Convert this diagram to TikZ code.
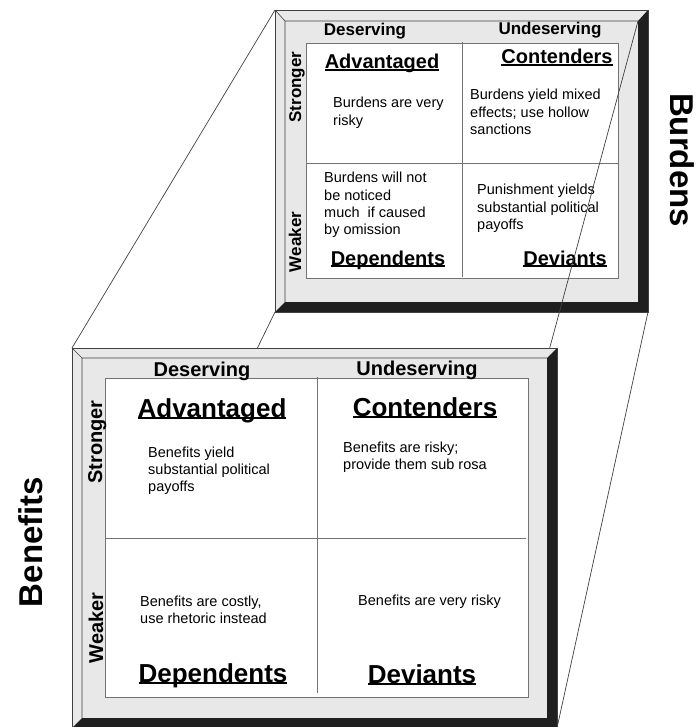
\documentclass[tikz,border=0pt]{standalone}
\usepackage{fontspec}
\setmainfont{Liberation Sans}
\newcommand\catname[1]{\setbox0=\hbox{#1}\rlap{\rule[-0.09em]{\wd0}{0.075em}}\box0}
\tikzset{
  rim/.style={draw=black!75, line width=0.6pt},
  dark/.style={fill=black!88},
  cell/.style={fill=white, draw=black!55, line width=0.8pt},
  zoomline/.style={draw=black!75, line width=0.7pt},
  colhead/.style={anchor=base, inner sep=0pt, font=\bfseries\fontsize{#1}{#1}\selectfont},
  rowhead/.style={anchor=base, inner sep=0pt, rotate=90, font=\bfseries\fontsize{#1}{#1}\selectfont},
  typelabel/.style={anchor=base, inner sep=0pt, font=\bfseries\fontsize{#1}{#1}\selectfont},
  note/.style={anchor=base west, align=left, inner sep=0pt, font=\fontsize{14.5}{17.3}\selectfont},
}
\begin{document}
\begin{tikzpicture}[x=1pt,y=-1pt]
    \useasboundingbox (0,0) rectangle (695,727);

    \coordinate (bur-tl) at (275,10);
    \coordinate (bur-tr) at (648,10);
    \coordinate (bur-br) at (648,312);
    \coordinate (bur-bl) at (275,312);
    \coordinate (bur-itl) at (285,21);
    \coordinate (bur-itr) at (638,21);
    \coordinate (bur-ibr) at (638,302);
    \coordinate (bur-ibl) at (285,302);

    \fill[black!9] (bur-tl) rectangle (bur-br);
    \fill[dark] (bur-itr) -- (bur-tr) -- (bur-br) -- (bur-bl) -- (bur-ibl) -- (bur-ibr) -- cycle;
    \draw[rim] (bur-tl) rectangle (bur-br);
    \draw[rim] (bur-tl) -- (bur-itl) -- (bur-itr) (bur-itl) -- (bur-ibl);
    \draw[cell] (306,43) rectangle (618,278);
    \draw[cell] (462,42) -- (462,277) (306,163) -- (618,163);

    \node[colhead=17] (bur-des) at (365,36) {Deserving};
    \node[colhead=17] (bur-und) at (550,35) {Undeserving};
    \node[rowhead=17] (bur-str) at (301,87) {Stronger};
    \node[rowhead=17] (bur-weak) at (301,242) {Weaker};
    \node[typelabel=20] (bur-adv) at (382,69) {\catname{Advantaged}};
    \node[typelabel=20] (bur-con) at (557,64) {\catname{Contenders}};
    \node[typelabel=20] (bur-dep) at (388,265) {\catname{Dependents}};
    \node[typelabel=20] (bur-dev) at (565,265) {\catname{Deviants}};
    \node[note] (bur-advtxt) at (333,125.3) {Burdens are very\\risky};
    \node[note] (bur-contxt) at (470,134.6) {Burdens yield mixed\\effects; use hollow\\sanctions};
    \node[note] (bur-deptxt) at (324,234.9) {Burdens will not\\be noticed\\much\ \ if caused\\by omission};
    \node[note] (bur-devtxt) at (477,229.6) {Punishment yields\\substantial political\\payoffs};

    \coordinate (ben-tl) at (72,348);
    \coordinate (ben-tr) at (557,348);
    \coordinate (ben-br) at (557,728);
    \coordinate (ben-bl) at (72,728);
    \coordinate (ben-itl) at (82,358);
    \coordinate (ben-itr) at (547,358);
    \coordinate (ben-ibr) at (547,718);
    \coordinate (ben-ibl) at (82,718);

    \draw[zoomline] (bur-tl) -- (ben-tl);
    \draw[zoomline] (bur-bl) -- (ben-bl);
    \draw[zoomline] (bur-br) -- (ben-br);
    \draw[zoomline] (bur-itr) -- (ben-itr);

    \fill[black!9] (ben-tl) rectangle (ben-br);
    \fill[dark] (ben-itr) -- (ben-tr) -- (ben-br) -- (ben-bl) -- (ben-ibl) -- (ben-ibr) -- cycle;
    \draw[rim] (ben-tl) rectangle (ben-br);
    \draw[rim] (ben-tl) -- (ben-itl) -- (ben-itr) (ben-itl) -- (ben-ibl);
    \draw[cell] (105,378) rectangle (528,697);
    \draw[cell] (317,377) -- (317,693) (105,538) -- (526,538);

    \node[colhead=20] (ben-des) at (202,376) {Deserving};
    \node[colhead=20] (ben-und) at (417,375) {Undeserving};
    \node[rowhead=20] (ben-str) at (102,442) {Stronger};
    \node[rowhead=20] (ben-weak) at (103,628) {Weaker};
    \node[typelabel=26] (ben-adv) at (212,417) {\catname{Advantaged}};
    \node[typelabel=26] (ben-con) at (425,416) {\catname{Contenders}};
    \node[typelabel=26] (ben-dep) at (213,682) {\catname{Dependents}};
    \node[typelabel=26] (ben-dev) at (422,683) {\catname{Deviants}};
    \node[note] (ben-advtxt) at (148,491.6) {Benefits yield\\substantial political\\payoffs};
    \node[note] (ben-contxt) at (343,469.8) {Benefits are risky;\\provide them sub rosa};
    \node[note] (ben-deptxt) at (140,623.3) {Benefits are costly,\\use rhetoric instead};
    \node[note] (ben-devtxt) at (358,605) {Benefits are very risky};

    \node[rowhead=33] (benefits) at (42,542) {Benefits};
    \node[typelabel=33, rotate=-90] (burdens) at (670,160) {Burdens};
\end{tikzpicture}
\end{document}
